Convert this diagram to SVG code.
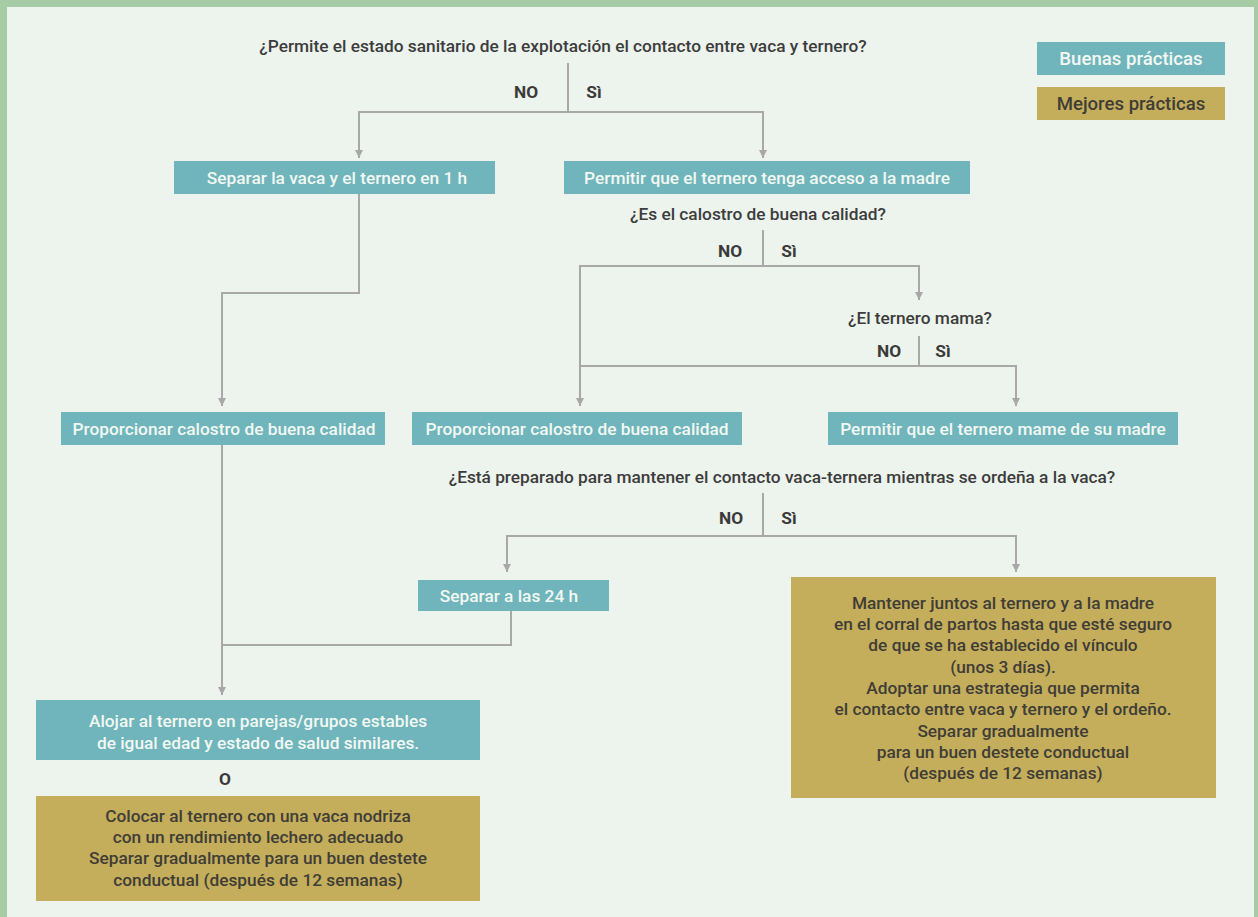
<svg xmlns="http://www.w3.org/2000/svg" width="1258" height="917" viewBox="0 0 1258 917">
<style>
text{font-family:Roboto,"Liberation Sans",sans-serif;font-size:17.3px;font-weight:500;text-anchor:middle}
.q{fill:#3c3c3c}
.yn{fill:#3a3a3a;font-weight:700}
.wt{fill:#f3f8f3}
.dt{fill:#3f3d36}
.lg{font-size:18.6px}
.teal{fill:#6fb5bb}
.gold{fill:#c4ae5c}
.ln{fill:none;stroke:#a8a8a8;stroke-width:2}
</style>
<defs>
<marker id="ah" viewBox="0 0 10 10" refX="10" refY="5" markerWidth="8" markerHeight="8" orient="auto-start-reverse" markerUnits="userSpaceOnUse">
<path d="M0,0 L10,5 L0,10 z" fill="#a8a8a8"/>
</marker>
</defs>
<rect x="0" y="0" width="1258" height="917" fill="#a6cca6"/>
<rect x="7" y="7" width="1247" height="910" fill="#edf3ed"/>

<g id="legend">
<rect class="teal" x="1037" y="42" width="188" height="33"/>
<text class="wt lg" x="1131" y="65">Buenas prácticas</text>
<rect class="gold" x="1037" y="87" width="188" height="33"/>
<text class="dt lg" x="1131" y="110">Mejores prácticas</text>
</g>

<g id="connectors">
<path class="ln" d="M568,63 V112"/>
<path class="ln" d="M359,158 V112 H763 V158" marker-start="url(#ah)" marker-end="url(#ah)"/>
<path class="ln" d="M763,230 V266"/>
<path class="ln" d="M580,406 V266 H919 V300" marker-start="url(#ah)" marker-end="url(#ah)"/>
<path class="ln" d="M919,336 V366"/>
<path class="ln" d="M580,366 H1016 V406" marker-end="url(#ah)"/>
<path class="ln" d="M359,194 V293 H222 V406" marker-end="url(#ah)"/>
<path class="ln" d="M222,445 V695" marker-end="url(#ah)"/>
<path class="ln" d="M222,645 H511 V611"/>
<path class="ln" d="M763,493 V536"/>
<path class="ln" d="M507,572 V536 H1016 V572" marker-start="url(#ah)" marker-end="url(#ah)"/>
</g>

<g id="q1">
<text class="q" x="563" y="52">¿Permite el estado sanitario de la explotación el contacto entre vaca y ternero?</text>
<text class="yn" x="526" y="98">NO</text>
<text class="yn" x="594" y="98">Sì</text>
</g>

<g id="n-separar1h">
<rect class="teal" x="174" y="161" width="321" height="33"/>
<text class="wt" x="337" y="184">Separar la vaca y el ternero en 1 h</text>
</g>

<g id="n-permitir-acceso">
<rect class="teal" x="564" y="161" width="406" height="33"/>
<text class="wt" x="767" y="184">Permitir que el ternero tenga acceso a la madre</text>
</g>

<g id="q2">
<text class="q" x="758" y="220">¿Es el calostro de buena calidad?</text>
<text class="yn" x="730" y="257">NO</text>
<text class="yn" x="789" y="257">Sì</text>
</g>

<g id="q3">
<text class="q" x="920" y="324">¿El ternero mama?</text>
<text class="yn" x="889" y="357">NO</text>
<text class="yn" x="943" y="357">Sì</text>
</g>

<g id="n-calostro-left">
<rect class="teal" x="61" y="412" width="324" height="33"/>
<text class="wt" x="224" y="435">Proporcionar calostro de buena calidad</text>
</g>

<g id="n-calostro-mid">
<rect class="teal" x="412" y="412" width="330" height="33"/>
<text class="wt" x="577" y="435">Proporcionar calostro de buena calidad</text>
</g>

<g id="n-mame">
<rect class="teal" x="828" y="412" width="350" height="33"/>
<text class="wt" x="1003" y="435">Permitir que el ternero mame de su madre</text>
</g>

<g id="q4">
<text class="q" x="782" y="483">¿Está preparado para mantener el contacto vaca-ternera mientras se ordeña a la vaca?</text>
<text class="yn" x="731" y="524">NO</text>
<text class="yn" x="789" y="524">Sì</text>
</g>

<g id="n-separar24h">
<rect class="teal" x="418" y="580" width="191" height="31"/>
<text class="wt" x="509" y="602">Separar a las 24 h</text>
</g>

<g id="n-mantener">
<rect class="gold" x="791" y="577" width="425" height="221"/>
<text class="dt" x="1003" y="609">Mantener juntos al ternero y a la madre</text>
<text class="dt" x="1003" y="630">en el corral de partos hasta que esté seguro</text>
<text class="dt" x="1003" y="651">de que se ha establecido el vínculo</text>
<text class="dt" x="1003" y="673">(unos 3 días).</text>
<text class="dt" x="1003" y="694">Adoptar una estrategia que permita</text>
<text class="dt" x="1003" y="715">el contacto entre vaca y ternero y el ordeño.</text>
<text class="dt" x="1003" y="737">Separar gradualmente</text>
<text class="dt" x="1003" y="758">para un buen destete conductual</text>
<text class="dt" x="1003" y="779">(después de 12 semanas)</text>
</g>

<g id="n-alojar">
<rect class="teal" x="36" y="700" width="444" height="60"/>
<text class="wt" x="258" y="727">Alojar al ternero en parejas/grupos estables</text>
<text class="wt" x="258" y="749">de igual edad y estado de salud similares.</text>
</g>

<g id="o-label">
<text class="yn" x="225" y="785">O</text>
</g>

<g id="n-nodriza">
<rect class="gold" x="36" y="796" width="444" height="105"/>
<text class="dt" x="258" y="822">Colocar al ternero con una vaca nodriza</text>
<text class="dt" x="258" y="843">con un rendimiento lechero adecuado</text>
<text class="dt" x="258" y="864">Separar gradualmente para un buen destete</text>
<text class="dt" x="258" y="886">conductual (después de 12 semanas)</text>
</g>
</svg>
